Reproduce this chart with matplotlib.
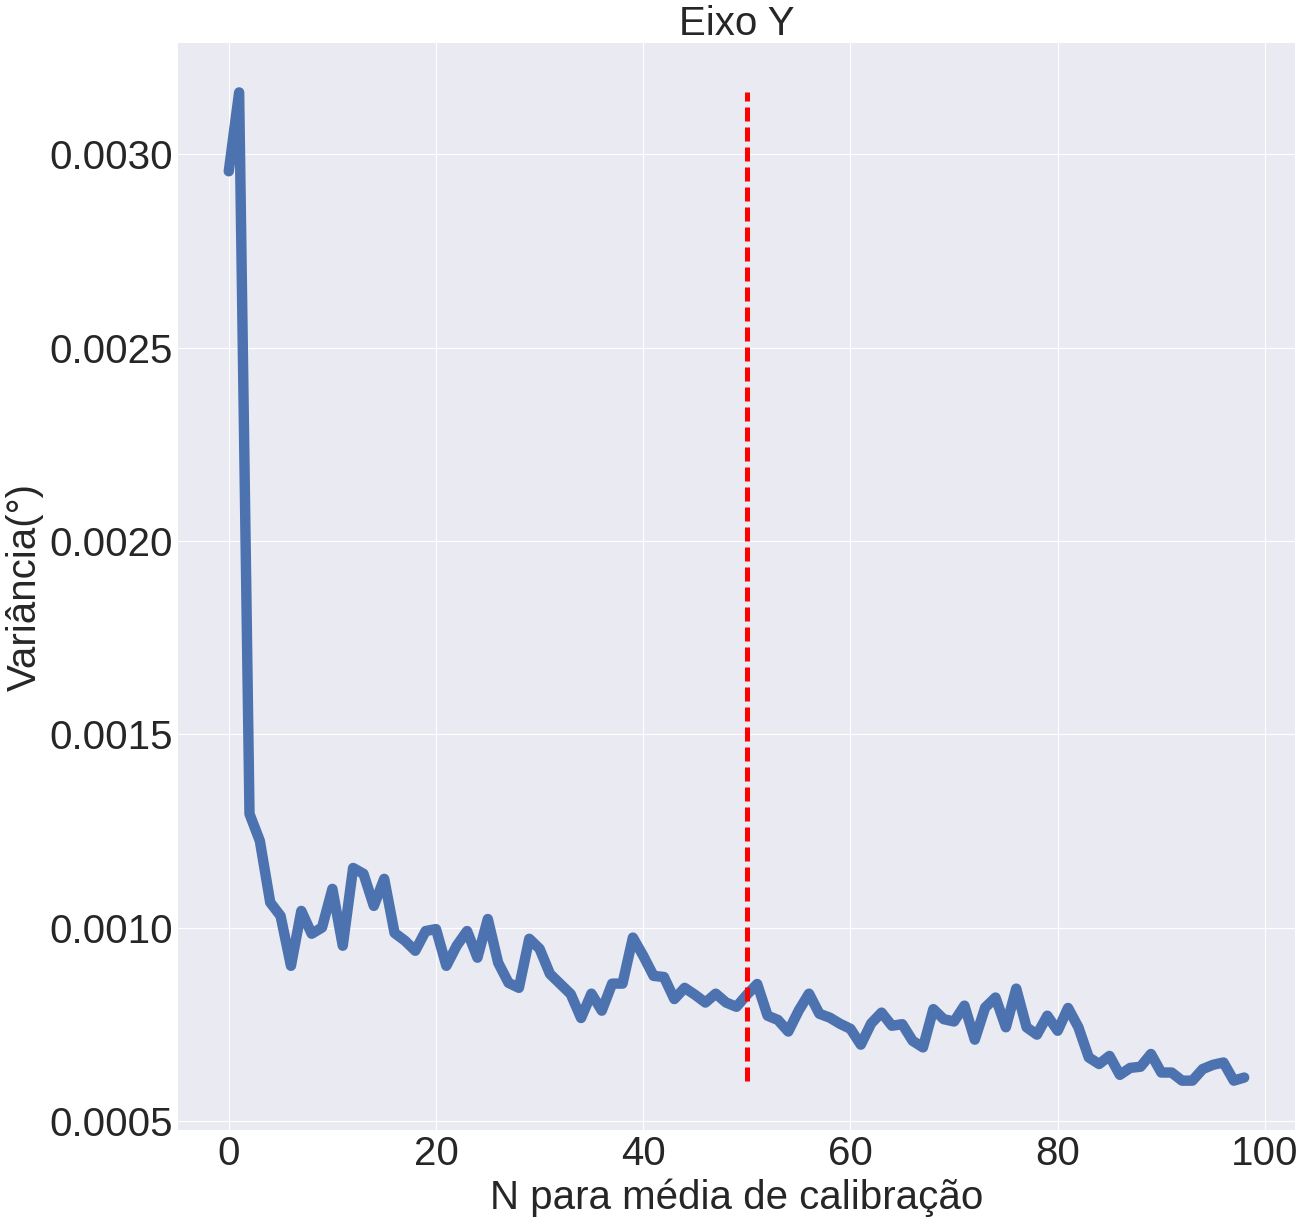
import numpy as np
import matplotlib
matplotlib.use("Agg")
from matplotlib import pyplot as plt

plt.style.use("seaborn-v0_8-darkgrid")
plt.rcParams['font.family'] = ['Liberation Sans', 'DejaVu Sans']

# variancia do eixo Y para cada N de calibracao (0..98)
variancia = [
    0.002956, 0.003160, 0.001294, 0.001224, 0.001065, 0.001030, 0.000901, 0.001043, 0.000984, 0.001000,
    0.001100, 0.000953, 0.001154, 0.001139, 0.001056, 0.001126, 0.000986, 0.000966, 0.000940, 0.000991,
    0.000996, 0.000901, 0.000953, 0.000991, 0.000922, 0.001022, 0.000909, 0.000857, 0.000844, 0.000971,
    0.000945, 0.000880, 0.000854, 0.000828, 0.000766, 0.000829, 0.000785, 0.000855, 0.000855, 0.000974,
    0.000927, 0.000875, 0.000872, 0.000815, 0.000844, 0.000826, 0.000806, 0.000829, 0.000806, 0.000795,
    0.000826, 0.000854, 0.000772, 0.000761, 0.000731, 0.000785, 0.000829, 0.000777, 0.000767, 0.000751,
    0.000738, 0.000697, 0.000752, 0.000780, 0.000746, 0.000750, 0.000707, 0.000690, 0.000789, 0.000763,
    0.000757, 0.000798, 0.000710, 0.000793, 0.000819, 0.000742, 0.000842, 0.000742, 0.000723, 0.000772,
    0.000733, 0.000792, 0.000742, 0.000664, 0.000647, 0.000668, 0.000619, 0.000637, 0.000640, 0.000673,
    0.000625, 0.000625, 0.000604, 0.000604, 0.000634, 0.000645, 0.000651, 0.000604, 0.000612,
]
N = np.arange(len(variancia))
N_escolhido = 50

fig = plt.figure(figsize=(13.05, 12.25), dpi=100)
ax = fig.add_axes([0.1364, 0.0775, 0.8559, 0.8874])

ax.plot(N, variancia, color="#4c72b0", linewidth=7.5)
ax.vlines(N_escolhido, min(variancia), max(variancia), colors="red",
          linestyles=[(0, (2.8, 1.2))], linewidth=3.6)

fs = 29
ax.set_title("Eixo Y", fontsize=fs)
ax.set_xlabel("N para média de calibração", fontsize=fs)
ax.set_ylabel("Variância(°)", fontsize=fs)
ax.tick_params(labelsize=fs)
ax.set_yticks([0.0005, 0.0010, 0.0015, 0.0020, 0.0025, 0.0030])
ax.yaxis.set_major_formatter(matplotlib.ticker.FormatStrFormatter("%.4f"))

plt.savefig("out.png", dpi=100)
